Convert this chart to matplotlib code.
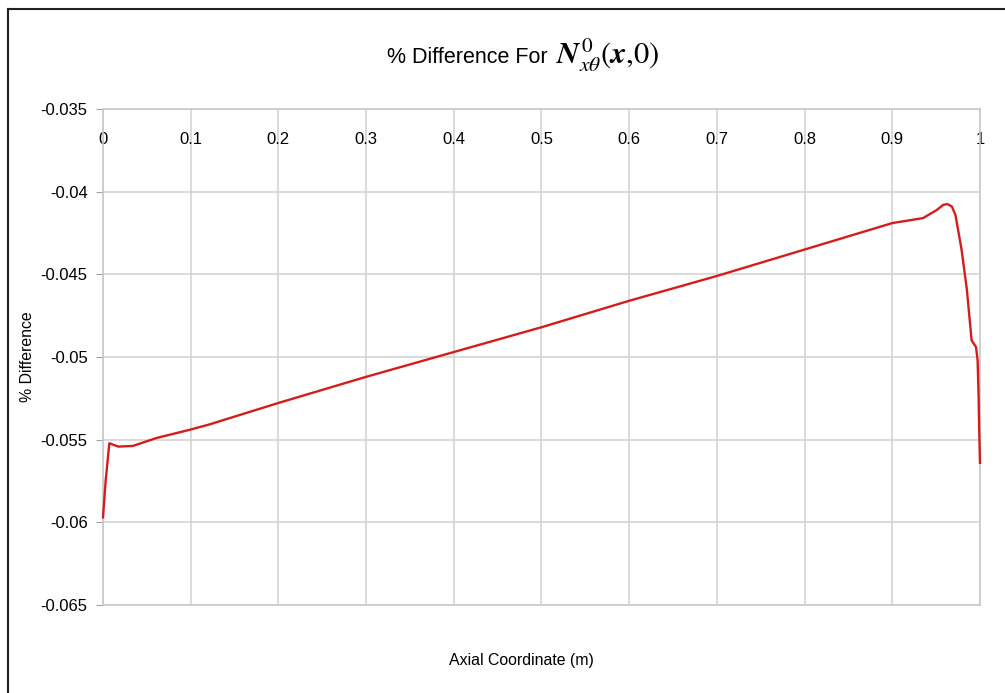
import matplotlib.pyplot as plt
from matplotlib.lines import Line2D

plt.rcParams['font.family'] = ['Liberation Sans', 'DejaVu Sans']
plt.rcParams['mathtext.fontset'] = 'stix'

# Axial position (m) and percentage difference along the shell
axial = [0.0, 0.003, 0.0072, 0.0175, 0.034, 0.061, 0.099, 0.12, 0.2, 0.3,
         0.4, 0.5, 0.6, 0.7, 0.8, 0.9, 0.935, 0.951, 0.958, 0.963, 0.968,
         0.972, 0.979, 0.985, 0.9905, 0.9955, 0.9973, 0.9985, 0.9992, 1.0]
pct_diff = [-0.0597, -0.0575, -0.05522, -0.05542, -0.05538, -0.0549, -0.0544,
            -0.0541, -0.05278, -0.0512, -0.0497, -0.0482, -0.0466, -0.0451,
            -0.0435, -0.0419, -0.0416, -0.0411, -0.0408, -0.04075, -0.0409,
            -0.0414, -0.0435, -0.0459, -0.0490, -0.0494, -0.0502, -0.0525,
            -0.0546, -0.0564]

x_ticks = [0, 0.1, 0.2, 0.3, 0.4, 0.5, 0.6, 0.7, 0.8, 0.9, 1]
x_tick_labels = ['0', '0.1', '0.2', '0.3', '0.4', '0.5', '0.6', '0.7', '0.8', '0.9', '1']
y_ticks = [-0.035, -0.04, -0.045, -0.05, -0.055, -0.06, -0.065]
y_tick_labels = ['-0.035', '-0.04', '-0.045', '-0.05', '-0.055', '-0.06', '-0.065']

fig = plt.figure(figsize=(10.05, 6.93), dpi=100)
ax = fig.add_axes([0.1025, 0.127, 0.8726, 0.7157])

ax.plot(axial, pct_diff, color='#d41c1c', linewidth=1.7, clip_on=False, zorder=3)

ax.set_xlim(0, 1)
ax.set_ylim(-0.065, -0.035)
ax.set_xticks(x_ticks)
ax.set_xticklabels(x_tick_labels)
ax.set_yticks(y_ticks)
ax.set_yticklabels(y_tick_labels)

ax.grid(True, color='#d4d4d4', linewidth=1.2)
ax.set_axisbelow(True)
for s in ax.spines.values():
    s.set_color('#c8c8c8')
    s.set_linewidth(1.2)

# x labels sit just under the top axis, inside the plot area
ax.xaxis.tick_top()
ax.tick_params(axis='x', length=0, pad=-27, labelsize=12)
ax.tick_params(axis='y', length=5, color='#a0a0a0', labelsize=12, pad=6)

# title: plain text followed by the resultant symbol
fig.text(548 / 1005, 1 - 63 / 693, '% Difference For', ha='right', va='baseline',
         fontsize=15.5)
fig.text(556 / 1005, 1 - 64 / 693, r'$\mathbfit{N}^{\,0}_{x\theta}(\mathbfit{x}{,}0)$',
         ha='left', va='baseline', fontsize=22)

fig.text(521 / 1005, 1 - 660 / 693, 'Axial Coordinate (m)', ha='center', va='center',
         fontsize=11.4)
fig.text(28 / 1005, 1 - 357 / 693, '% Difference', ha='center', va='center',
         rotation=90, fontsize=11.4)

# outer frame (left and top edges)
fig.add_artist(Line2D([8 / 1005, 8 / 1005], [0, 1 - 9 / 693],
                      transform=fig.transFigure, color='#202020', linewidth=1.5))
fig.add_artist(Line2D([8 / 1005, 1], [1 - 9 / 693, 1 - 9 / 693],
                      transform=fig.transFigure, color='#202020', linewidth=1.5))

fig.savefig('out.png', dpi=100)
